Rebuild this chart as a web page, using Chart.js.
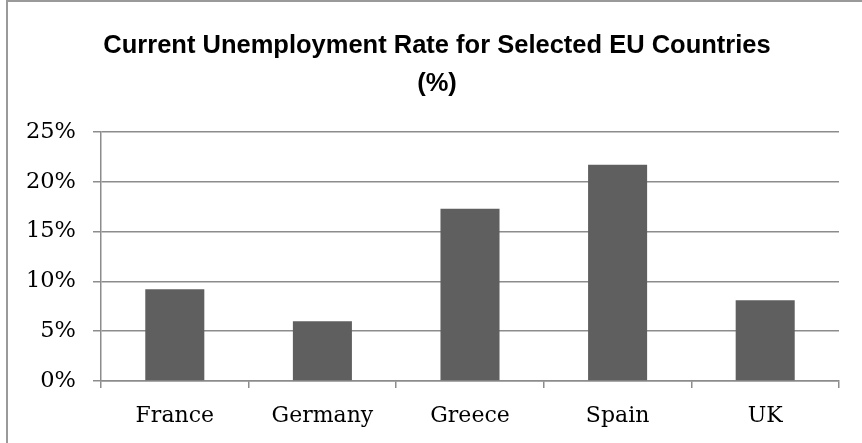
<!DOCTYPE html>
<html>
<head>
<meta charset="utf-8">
<script src="https://cdn.jsdelivr.net/npm/chart.js@4"></script>
<style>
  html, body { margin: 0; padding: 0; background: #fff; overflow: hidden; }
  #wrap { position: relative; width: 862px; height: 443px; }
  #frame { position: absolute; left: 6px; top: 0px; width: 1000px; height: 1000px; border: 2px solid #9a9a9a; box-sizing: border-box; pointer-events: none; }
  canvas { position: absolute; left: 0; top: 0; }
</style>
</head>
<body>
<div id="wrap">
  <canvas id="c" width="862" height="443"></canvas>
  <div id="frame"></div>
</div>
<script>
const categories = ["France", "Germany", "Greece", "Spain", "UK"];
const unemploymentRate = [9.2, 6.0, 17.3, 21.7, 8.1];
const titleLines = ["Current Unemployment Rate for Selected EU Countries", "(%)"];
const yTickValues = [0, 5, 10, 15, 20, 25];

const serif = "'DejaVu Serif', serif";
const gridColor = "#8c8c8c";

new Chart(document.getElementById("c"), {
  type: "bar",
  data: {
    labels: categories,
    datasets: [{
      data: unemploymentRate,
      backgroundColor: "#5f5f5f",
      borderWidth: 0,
      categoryPercentage: 1.0,
      barPercentage: 0.4
    }]
  },
  options: {
    responsive: false,
    animation: false,
    devicePixelRatio: 1,
    layout: { padding: { left: 12, right: 0, top: 0, bottom: 0 } },
    plugins: {
      legend: { display: false },
      tooltip: { enabled: false },
      title: {
        display: true,
        text: titleLines,
        color: "#000",
        font: { family: "'Liberation Sans', sans-serif", size: 25.5, weight: "bold", lineHeight: 1.5 },
        padding: { top: 26.9, bottom: 28.6 }
      }
    },
    scales: {
      x: {
        grid: { offset: true, drawOnChartArea: false, drawTicks: true, tickLength: 7, color: gridColor, lineWidth: 1.5 },
        border: { display: true, color: gridColor, width: 1.5 },
        ticks: { color: "#000", font: { family: serif, size: 22 }, padding: 15, maxRotation: 0 },
        afterFit: (s) => { s.height = 62; }
      },
      y: {
        min: 0, max: 25,
        afterBuildTicks: (s) => { s.ticks = yTickValues.map(v => ({ value: v })); },
        grid: { drawOnChartArea: true, drawTicks: true, tickLength: 8, color: gridColor, lineWidth: 1.5 },
        border: { display: true, color: gridColor, width: 1.5 },
        ticks: { color: "#000", font: { family: serif, size: 22.5 }, padding: 17, callback: (v) => v + "%" },
        afterFit: (s) => { s.width = 89; }
      },
      yRight: {
        position: "right",
        display: true,
        grid: { display: false },
        border: { display: false },
        ticks: { display: false },
        afterFit: (s) => { s.width = 23; }
      }
    }
  }
});
</script>
</body>
</html>
